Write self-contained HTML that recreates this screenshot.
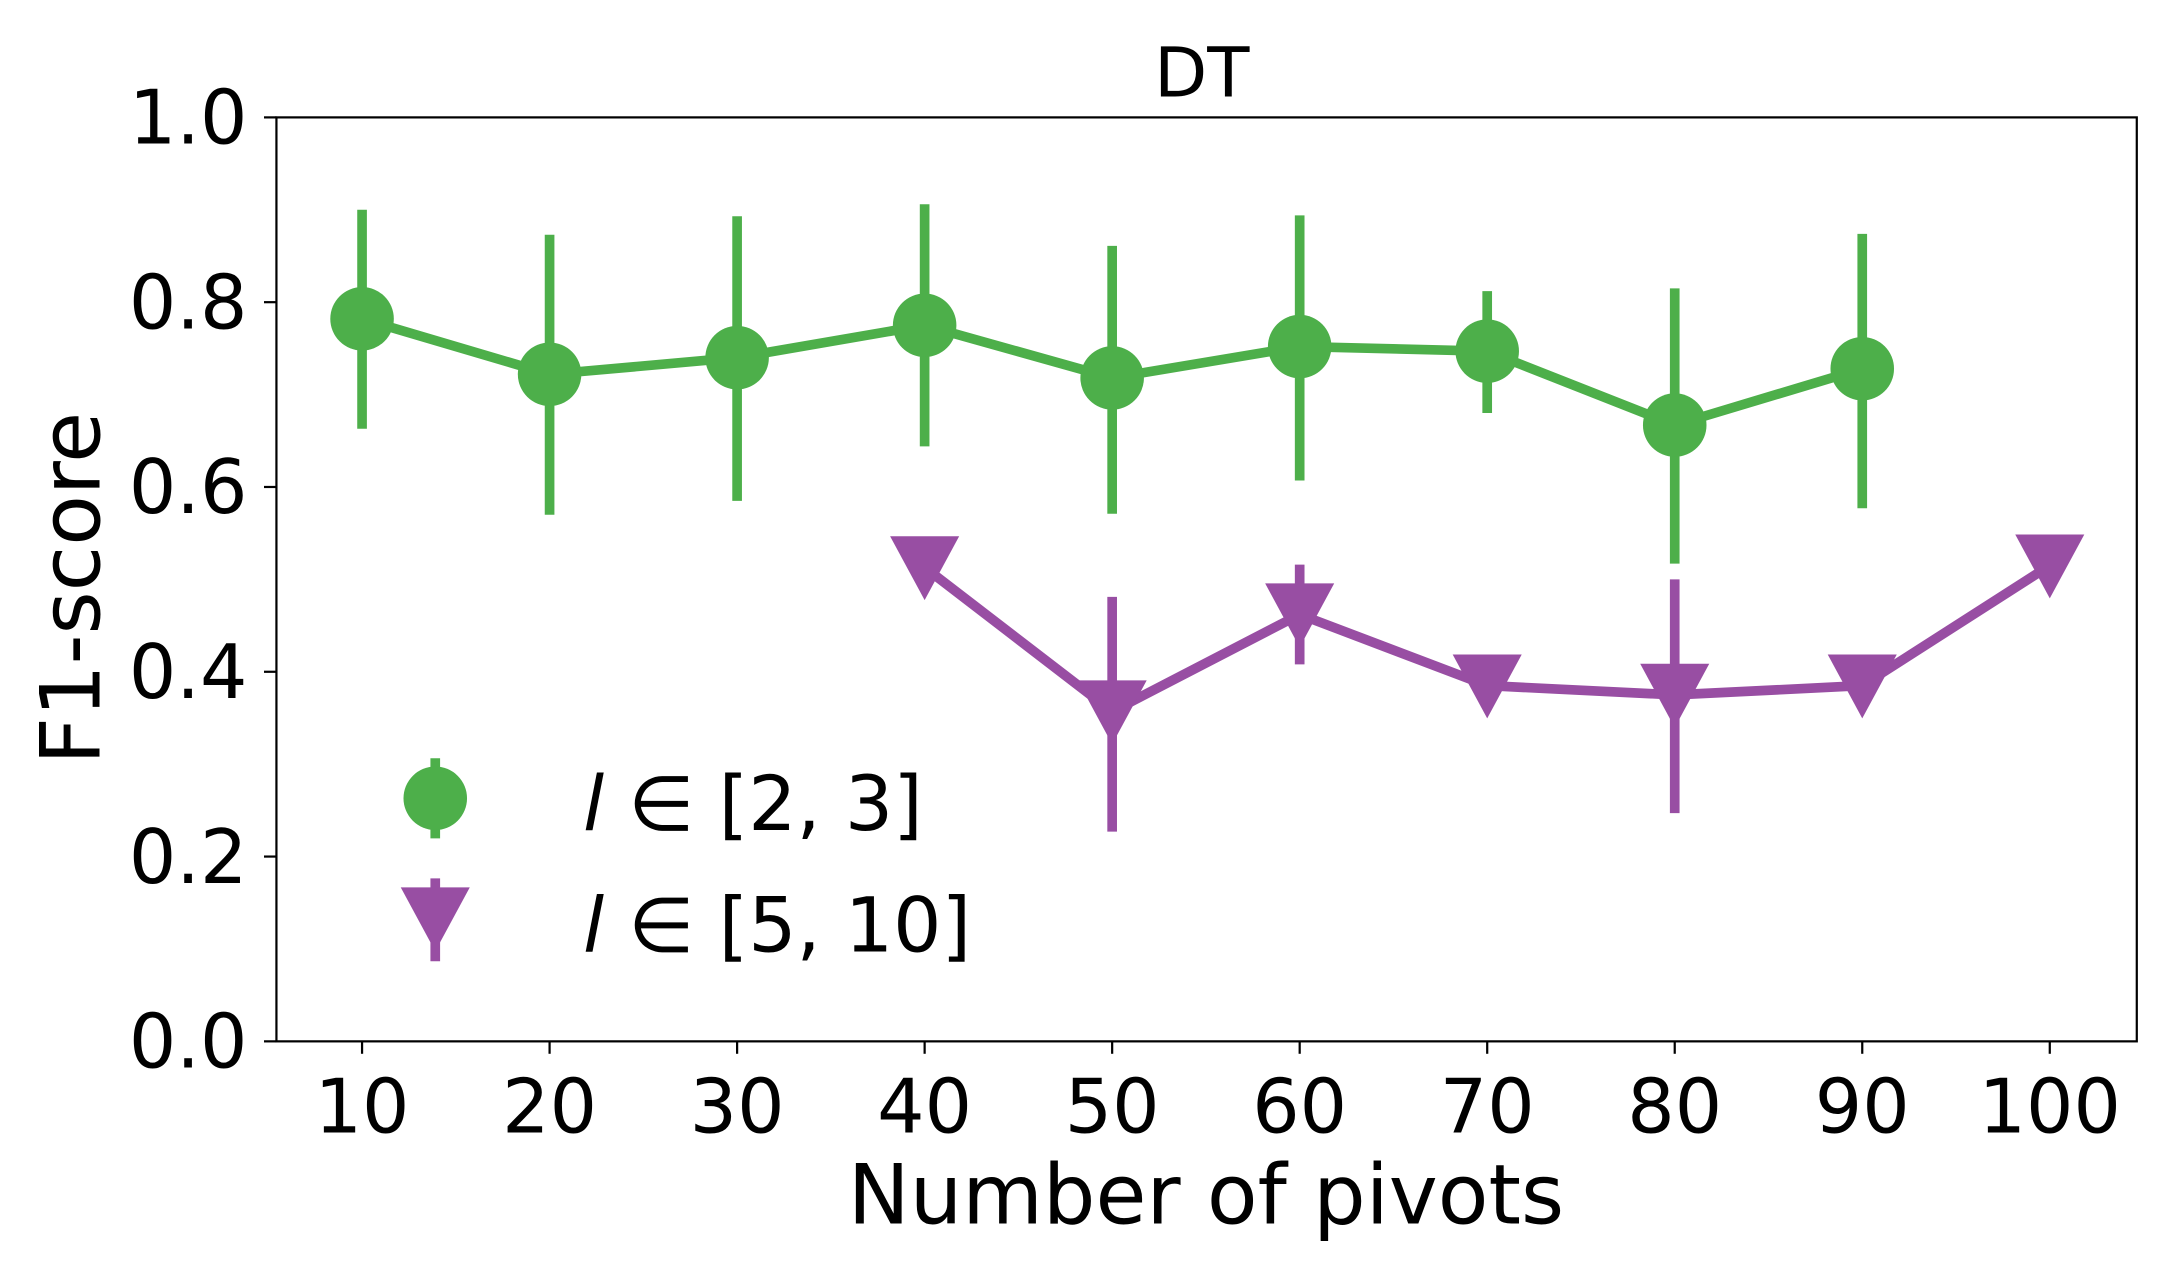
<!DOCTYPE html>
<html><head><meta charset="utf-8"><style>body{margin:0;background:#fff}svg{display:block}text{font-family:"DejaVu Sans","Liberation Sans",sans-serif;fill:#000}</style></head>
<body>
<svg id="chart" width="2166" height="1272" viewBox="0 0 1568 921" xmlns="http://www.w3.org/2000/svg">
<rect width="1568" height="921" fill="#fff"/>
<g id="g"></g>
</svg>
<script>
const xCats=[10,20,30,40,50,60,70,80,90,100];
const yTicks=[0,0.2,0.4,0.6,0.8,1.0];
const yTickLabels=["0.0","0.2","0.4","0.6","0.8","1.0"];
const greenX=[10,20,30,40,50,60,70,80,90];
const greenY=[0.782,0.722,0.740,0.775,0.718,0.752,0.747,0.667,0.728];
const greenLo=[0.663,0.570,0.585,0.644,0.571,0.607,0.680,0.517,0.577];
const greenHi=[0.900,0.873,0.893,0.906,0.861,0.894,0.812,0.815,0.874];
const purpleX=[40,50,60,70,80,90,100];
const purpleY=[0.513,0.357,0.462,0.385,0.375,0.385,0.515];
const purpleLo=[0.513,0.227,0.408,0.370,0.247,0.370,0.515];
const purpleHi=[0.513,0.481,0.516,0.400,0.500,0.400,0.515];

const L=200,R=1547,T=85,B=754;
const xs=v=>262+(v-10)*(1484-262)/90;
const ys=v=>B-v*(B-T);
const g=document.getElementById('g');
const NS='http://www.w3.org/2000/svg';
function mk(tag,attrs,parent){const e=document.createElementNS(NS,tag);for(const k in attrs)e.setAttribute(k,attrs[k]);(parent||g).appendChild(e);return e;}
const GREEN='#4daf4a',PURPLE='#984ea3';

let t=mk('text',{x:870,y:70,'font-size':50,'text-anchor':'middle'});t.textContent='DT';



yTicks.forEach((v,i)=>{
  const l=mk('line',{x1:L-9,x2:L,y1:ys(v),y2:ys(v),stroke:'#000','stroke-width':1.6});
  
  
  const tx=mk('text',{x:L-21,y:ys(v)+19,'font-size':54,'text-anchor':'end'});tx.textContent=yTickLabels[i];
  
  
});
xCats.forEach(v=>{
  const l=mk('line',{x1:xs(v),x2:xs(v),y1:B,y2:B+9,stroke:'#000','stroke-width':1.6});
  
  
  const tx=mk('text',{x:xs(v),y:B+66,'font-size':54,'text-anchor':'middle'});tx.textContent=v;
  
  
});
t=mk('text',{x:873,y:886,'font-size':60,'text-anchor':'middle'});t.textContent='Number of pivots';


t=mk('text',{x:0,y:0,'font-size':60,'text-anchor':'middle',transform:'translate(72,426) rotate(-90)'});t.textContent='F1-score';



function tri(cx,cy,s,parent){return mk('polygon',{points:`${cx-s},${cy-s*0.9} ${cx+s},${cy-s*0.9} ${cx},${cy+s*0.95}`,fill:PURPLE},parent);}

const gs=mk('g',{});


greenX.forEach((x,i)=>{const e=mk('line',{x1:xs(x),x2:xs(x),y1:ys(greenLo[i]),y2:ys(greenHi[i]),stroke:GREEN,'stroke-width':7},gs);
  
  });
let pl=mk('polyline',{points:greenX.map((x,i)=>xs(x)+','+ys(greenY[i])).join(' '),fill:'none',stroke:GREEN,'stroke-width':7},gs);


greenX.forEach((x,i)=>{const c=mk('circle',{cx:xs(x),cy:ys(greenY[i]),r:23,fill:GREEN},gs);
  
  });

const ps=mk('g',{});


purpleX.forEach((x,i)=>{const e=mk('line',{x1:xs(x),x2:xs(x),y1:ys(purpleLo[i]),y2:ys(purpleHi[i]),stroke:PURPLE,'stroke-width':7},ps);
  
  });
pl=mk('polyline',{points:purpleX.map((x,i)=>xs(x)+','+ys(purpleY[i])).join(' '),fill:'none',stroke:PURPLE,'stroke-width':7},ps);


purpleX.forEach((x,i)=>{const p=tri(xs(x),ys(purpleY[i]),25,ps);
  
  });

const fr=mk('rect',{x:L,y:T,width:R-L,height:B-T,fill:'none',stroke:'#000','stroke-width':1.6});



const lg=mk('g',{});


let e=mk('line',{x1:315,x2:315,y1:549,y2:607,stroke:GREEN,'stroke-width':7},lg);


e=mk('circle',{cx:315,cy:578,r:23,fill:GREEN},lg);


e=mk('line',{x1:315,x2:315,y1:636,y2:696,stroke:PURPLE,'stroke-width':7},lg);


e=tri(315,665,25,lg);


e=mk('text',{x:422,y:601,'font-size':55},lg);
e.innerHTML='<tspan font-style="italic">l</tspan> ∈ [2, 3]';


e=mk('text',{x:422,y:689,'font-size':55},lg);
e.innerHTML='<tspan font-style="italic">l</tspan> ∈ [5, 10]';


</script>
</body></html>
